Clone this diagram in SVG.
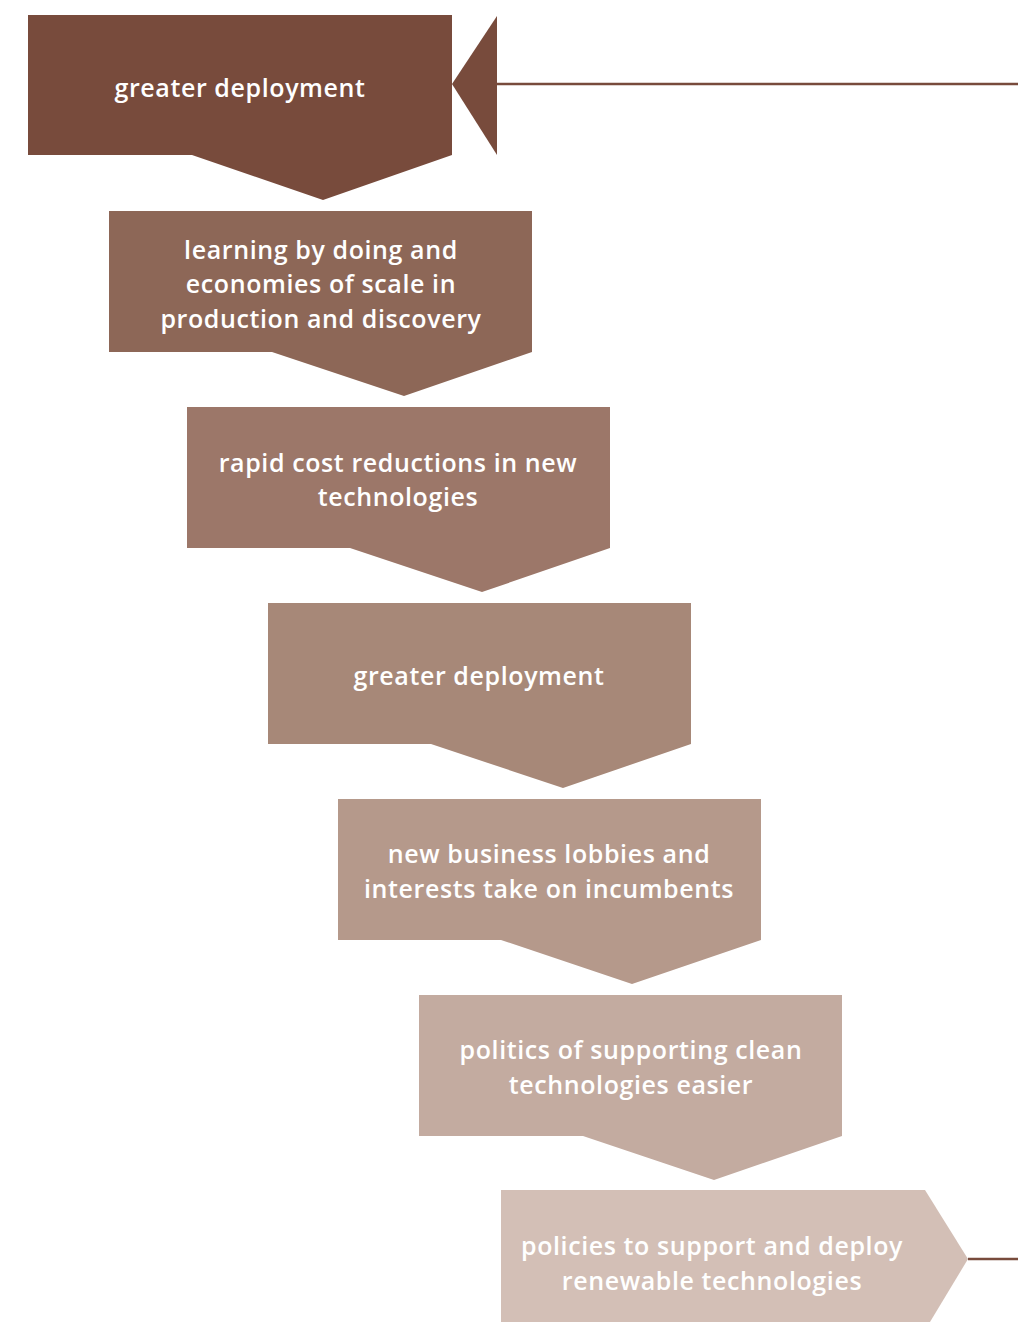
<svg xmlns="http://www.w3.org/2000/svg" width="1018" height="1322" viewBox="0 0 1018 1322">
<style>
.t{font-family:"Open Sans","Liberation Sans",sans-serif;font-weight:600;font-size:25px;letter-spacing:0.6px;fill:#ffffff;text-anchor:middle}
.c{stroke:#784B3C;stroke-width:2.5;fill:none}
</style>
<rect width="1018" height="1322" fill="#ffffff"/>
<g id="connectors">
<line class="c" x1="497" y1="84" x2="1018" y2="84"/>
<polygon points="452,84 497,16 497,155" fill="#784B3C"/>
<line class="c" x1="968" y1="1259" x2="1018" y2="1259"/>
</g>
<g id="n1">
<path d="M28,15 H452 V155 L323,200 L192,155 H28 Z" fill="#784B3C"/>
<text class="t" x="240" y="97">greater deployment</text>
</g>
<g id="n2">
<path d="M109,211 H532 V352 L404,396 L272,352 H109 Z" fill="#8D6757"/>
<text class="t" x="321" y="259">learning by doing and</text>
<text class="t" x="321" y="293">economies of scale in</text>
<text class="t" x="321" y="328">production and discovery</text>
</g>
<g id="n3">
<path d="M187,407 H610 V548 L482,592 L350,548 H187 Z" fill="#9C7769"/>
<text class="t" x="398" y="472">rapid cost reductions in new</text>
<text class="t" x="398" y="506">technologies</text>
</g>
<g id="n4">
<path d="M268,603 H691 V744 L563,788 L431,744 H268 Z" fill="#A78878"/>
<text class="t" x="479" y="685">greater deployment</text>
</g>
<g id="n5">
<path d="M338,799 H761 V940 L632,984 L501,940 H338 Z" fill="#B5998B"/>
<text class="t" x="549" y="863">new business lobbies and</text>
<text class="t" x="549" y="898">interests take on incumbents</text>
</g>
<g id="n6">
<path d="M419,995 H842 V1136 L714,1180 L583,1136 H419 Z" fill="#C3ABA0"/>
<text class="t" x="631" y="1059">politics of supporting clean</text>
<text class="t" x="631" y="1094">technologies easier</text>
</g>
<g id="n7">
<path d="M501,1190 H925 L968,1259 L930,1322 H501 Z" fill="#D3BFB6"/>
<text class="t" x="712" y="1255">policies to support and deploy</text>
<text class="t" x="712" y="1290">renewable technologies</text>
</g>
</svg>
